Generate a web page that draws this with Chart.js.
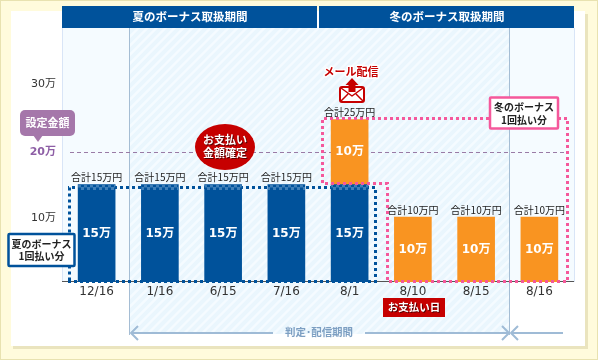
<!DOCTYPE html>
<html>
<head>
<meta charset="utf-8">
<style>
  html, body { margin: 0; padding: 0; background: #fffbdc; }
  canvas { display: block; }
</style>
</head>
<body>
<canvas id="myChart" width="598" height="360"></canvas>
<script src="https://cdnjs.cloudflare.com/ajax/libs/Chart.js/4.4.1/chart.umd.min.js"></script>
<script>
  const dates = ["12/16", "1/16", "6/15", "7/16", "8/1", "8/10", "8/15", "8/16"];
  const summerBonus = [15, 15, 15, 15, 15, null, null, null];
  const winterBonus = [null, null, null, null, 10, 10, 10, 10];
  const yTicks = [10, 20, 30];
  const yTickLabels = ["10万", "20万", "30万"];
  const limitValue = 20;

  const BLUE = "#00529b";
  const ORANGE = "#f99421";
  const RED = "#c60000";
  const PINK = "#f5589b";
  const PURPLE = "#a577aa";
  const ARROW = "#9fbbd6";
  const JP = '"DejaVu Sans", "Noto Sans CJK JP", sans-serif';
  const JP_BOLD = '"Noto Sans CJK JP", sans-serif';

  function txt(c, s, x, y, font, color, shadow) {
    c.font = font;
    c.textAlign = "center";
    c.textBaseline = "middle";
    if (shadow) {
      c.fillStyle = shadow;
      c.fillText(s, x + 1, y + 1);
    }
    c.fillStyle = color;
    c.fillText(s, x, y);
  }

  function roundBox(c, x, y, w, h, r, fill, stroke) {
    c.beginPath();
    c.roundRect(x, y, w, h, r);
    c.fillStyle = fill;
    c.fill();
    if (stroke) {
      c.strokeStyle = stroke;
      c.lineWidth = 2.5;
      c.stroke();
    }
  }

  function dotted(c, pts, color) {
    c.save();
    c.strokeStyle = color;
    c.lineWidth = 3;
    c.setLineDash([3, 3]);
    c.beginPath();
    pts.forEach((p, i) => (i ? c.lineTo(p[0], p[1]) : c.moveTo(p[0], p[1])));
    c.stroke();
    c.restore();
  }

  function chevron(c, x, y, dir) {
    c.beginPath();
    c.moveTo(x + dir * 7, y - 7);
    c.lineTo(x, y);
    c.lineTo(x + dir * 7, y + 7);
    c.stroke();
  }

  // panel, stripes, header and everything behind the bars
  const backdrop = {
    id: "backdrop",
    beforeDraw(chart) {
      const c = chart.ctx;
      const y = chart.scales.y;
      c.save();
      c.fillStyle = "#fffbdc";
      c.fillRect(0, 0, 598, 360);
      c.strokeStyle = "#e8e2b0";
      c.lineWidth = 1;
      c.strokeRect(0.5, 0.5, 597, 359);
      c.fillStyle = "#eae4be";
      c.fillRect(13, 14, 575, 335);
      c.fillStyle = "#fff";
      c.fillRect(11, 11, 574, 335);

      c.fillStyle = "#f5fbff";
      c.fillRect(62, 28, 512, 254);
      c.fillStyle = "#d9e5f7";
      c.fillRect(62, 28, 1, 254);
      c.fillRect(574, 28, 1, 254);

      // striped judging period
      c.save();
      c.beginPath();
      c.rect(130, 28, 380, 306);
      c.clip();
      c.fillStyle = "#f5fbff";
      c.fillRect(130, 28, 380, 306);
      c.strokeStyle = "#eaf6fd";
      c.lineWidth = 4;
      for (let i = -250; i < 540; i += 9) {
        c.beginPath();
        c.moveTo(i, 340);
        c.lineTo(i + 320, 20);
        c.stroke();
      }
      c.restore();

      c.fillStyle = "#a5bdd4";
      c.fillRect(129, 28, 1, 307);
      c.fillRect(509, 28, 1, 318 - 11);

      c.fillStyle = BLUE;
      c.fillRect(62, 6, 255, 22);
      c.fillRect(319, 6, 255, 22);
      txt(c, "夏のボーナス取扱期間", 190, 17, "bold 11.5px " + JP_BOLD, "#fff");
      txt(c, "冬のボーナス取扱期間", 447, 17, "bold 11.5px " + JP_BOLD, "#fff");

      // limit line
      const ly = Math.round(y.getPixelForValue(limitValue)) + 0.5;
      c.strokeStyle = "#9a7ba6";
      c.lineWidth = 1;
      c.setLineDash([4, 3]);
      c.beginPath();
      c.moveTo(70, ly);
      c.lineTo(568, ly);
      c.stroke();
      c.setLineDash([]);

      // axis line
      c.fillStyle = "#555";
      c.fillRect(62, y.bottom - 1, 512, 1);
      c.restore();
    },
    afterDatasetsDraw(chart) {
      const c = chart.ctx;
      const x = chart.scales.x;
      const y = chart.scales.y;
      const meta0 = chart.getDatasetMeta(0);
      c.save();

      // dotted outlines
      dotted(c, [[69.5, 187.5], [69.5, 281]], BLUE);
      dotted(c, [[68, 281.5], [375.5, 281.5], [375.5, 187.5], [68, 187.5]], BLUE);
      meta0.data.forEach((bar, i) => {
        if (!summerBonus[i]) return;
        c.save();
        c.beginPath();
        c.rect(bar.x - 18.5, 185, 37, 5);
        c.clip();
        dotted(c, [[60, 186], [380, 186]], "#3f7fb8");
        dotted(c, [[63, 188.5], [380, 188.5]], "#3f7fb8");
        c.restore();
      });
      dotted(c, [[322.5, 183], [322.5, 118.5], [567.5, 118.5], [567.5, 281.5], [387.5, 281.5], [387.5, 183.5], [322.5, 183.5]], PINK);

      // values inside the bars and totals above
      dates.forEach((d, i) => {
        const cx = x.getPixelForValue(i);
        const a = summerBonus[i];
        const b = winterBonus[i];
        if (a) {
          const py = y.getPixelForValue(a / 2);
          txt(c, a + "万", cx, py + 0.5, "bold 12px " + JP, "#fff");
        }
        if (b) {
          const py = y.getPixelForValue((a || 0) + b / 2);
          txt(c, b + "万", cx, py, "bold 12px " + JP, "#fff");
        }
        const total = (a || 0) + (b || 0);
        txt(c, "合計" + total + "万円", cx, y.getPixelForValue(total) - 7, "10px " + JP_BOLD, "#222");
      });

      // 設定金額 callout
      roundBox(c, 20, 110, 55, 26, 5, PURPLE);
      c.fillStyle = PURPLE;
      c.beginPath();
      c.moveTo(33, 135);
      c.lineTo(43, 135);
      c.lineTo(38, 142);
      c.fill();
      txt(c, "設定金額", 47.5, 123, "bold 11px " + JP_BOLD, "#fff");

      // お支払い金額確定
      c.fillStyle = RED;
      c.beginPath();
      c.ellipse(225, 147, 30, 23, 0, 0, Math.PI * 2);
      c.fill();
      txt(c, "お支払い", 225, 140, "bold 11px " + JP_BOLD, "#fff", "#500");
      txt(c, "金額確定", 225, 153, "bold 11px " + JP_BOLD, "#fff", "#500");

      // bonus boxes
      roundBox(c, 8.5, 234, 66, 32, 1, "#fff", BLUE);
      txt(c, "夏のボーナス", 41.5, 244, "bold 10px " + JP_BOLD, "#222");
      txt(c, "1回払い分", 41.5, 256, "bold 10px " + JP_BOLD, "#222");
      roundBox(c, 490, 97.5, 68, 31, 1, "#fff", PINK);
      txt(c, "冬のボーナス", 524, 107.5, "bold 10px " + JP_BOLD, "#222");
      txt(c, "1回払い分", 524, 120, "bold 10px " + JP_BOLD, "#222");

      // お支払い日
      c.fillStyle = RED;
      c.fillRect(383, 298, 62, 19);
      txt(c, "お支払い日", 414, 307.5, "bold 10.5px " + JP_BOLD, "#fff", "#500");

      // メール配信
      c.lineJoin = "round";
      c.font = "bold 11px " + JP_BOLD;
      c.textAlign = "center";
      c.textBaseline = "middle";
      c.strokeStyle = "#fff";
      c.lineWidth = 3;
      c.strokeText("メール配信", 351, 72);
      txt(c, "メール配信", 351, 72, "bold 11px " + JP_BOLD, RED);
      c.strokeStyle = RED;
      c.lineWidth = 2;
      c.fillStyle = "#fff";
      c.beginPath();
      c.roundRect(340, 87, 24, 15, 2);
      c.fill();
      c.stroke();
      c.lineWidth = 1.5;
      c.beginPath();
      c.moveTo(341, 88);
      c.lineTo(352, 96);
      c.lineTo(363, 88);
      c.moveTo(341, 101);
      c.lineTo(348, 94);
      c.moveTo(363, 101);
      c.lineTo(356, 94);
      c.stroke();
      c.fillStyle = RED;
      c.beginPath();
      c.moveTo(352, 78);
      c.lineTo(358.5, 85);
      c.lineTo(355.5, 85);
      c.lineTo(355.5, 92);
      c.lineTo(348.5, 92);
      c.lineTo(348.5, 85);
      c.lineTo(345.5, 85);
      c.closePath();
      c.fill();

      // 判定・配信期間 arrows
      c.strokeStyle = ARROW;
      c.lineWidth = 2;
      c.beginPath();
      c.moveTo(132, 333);
      c.lineTo(273, 333);
      c.moveTo(365, 333);
      c.lineTo(508, 333);
      c.moveTo(512, 333);
      c.lineTo(563, 333);
      c.stroke();
      chevron(c, 131, 333, 1);
      chevron(c, 509, 333, -1);
      chevron(c, 511, 333, 1);
      txt(c, "判定･配信期間", 319, 332, "bold 10.5px " + JP_BOLD, "#7d9fc2");
      c.restore();
    },
  };

  const isLimit = (t) => !!t.tick && t.tick.value === limitValue;
  // labels in the original sit slightly off their true heights
  const labelNudge = { 10: -0.25, 20: 0, 30: 0.45 };

  const ctx = document.getElementById("myChart").getContext("2d");
  const myChart = new Chart(ctx, {
    type: "bar",
    data: {
      labels: dates,
      datasets: [
        { label: "夏のボーナス", data: summerBonus, backgroundColor: BLUE, barThickness: 37 },
        { label: "冬のボーナス", data: winterBonus, backgroundColor: ORANGE, barThickness: 37 },
      ],
    },
    options: {
      responsive: false,
      animation: false,
      layout: { padding: { top: 22, right: 27 } },
      plugins: { legend: { display: false }, tooltip: { enabled: false } },
      scales: {
        x: {
          stacked: true,
          grid: { display: false, drawTicks: false },
          border: { display: false },
          afterFit: (s) => { s.height = 78; },
          ticks: {
            color: "#333",
            padding: 3,
            maxRotation: 0,
            autoSkip: false,
            font: { family: JP, size: 12 },
          },
        },
        y: {
          stacked: true,
          min: 0,
          max: 40,
          grid: { display: false, drawTicks: false },
          border: { display: false },
          afterFit: (s) => { s.width = 65; },
          afterBuildTicks: (s) => { s.ticks = yTicks.map((v) => ({ value: v + labelNudge[v] })); },
          ticks: {
            padding: 9,
            callback: (v, i) => yTickLabels[i],
            color: (t) => (isLimit(t) ? "#8e5fa6" : "#333"),
            font: (t) => ({ family: JP, size: 11, weight: isLimit(t) ? "bold" : "normal" }),
          },
        },
      },
    },
    plugins: [backdrop],
  });
</script>
</body>
</html>
